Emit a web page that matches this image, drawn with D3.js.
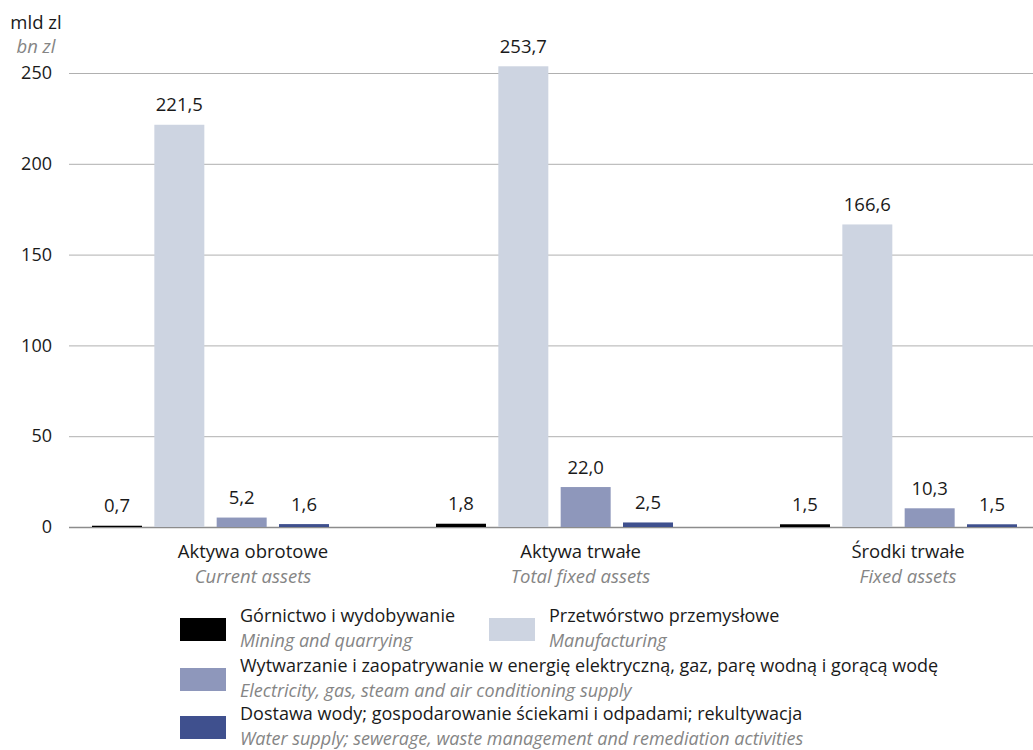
<!DOCTYPE html>
<html>
<head>
<meta charset="utf-8">
<script src="https://cdn.jsdelivr.net/npm/d3@7"></script>
<style>
  body { margin: 0; background: #fff; }
  svg text { font-family: "Open Sans", sans-serif; }
</style>
</head>
<body>
<div id="chart"></div>
<script>
// categories (polish + english)
const categories = ["Aktywa obrotowe", "Aktywa trwałe", "Środki trwałe"];
const categoriesEn = ["Current assets", "Total fixed assets", "Fixed assets"];

// series
const seriesPl = [
    "Górnictwo i wydobywanie",
    "Przetwórstwo przemysłowe",
    "Wytwarzanie i zaopatrywanie w energię elektryczną, gaz, parę wodną i gorącą wodę",
    "Dostawa wody; gospodarowanie ściekami i odpadami; rekultywacja"
];
const seriesEn = [
    "Mining and quarrying",
    "Manufacturing",
    "Electricity, gas, steam and air conditioning supply",
    "Water supply; sewerage, waste management and remediation activities"
];
const colors = ["#000000", "#cdd4e1", "#8e97bb", "#3f508e"];

// values per series, one per category (mld zl)
const mining = [0.7, 1.8, 1.5];
const manufacturing = [221.5, 253.7, 166.6];
const energy = [5.2, 22.0, 10.3];
const water = [1.6, 2.5, 1.5];

const yTicks = [0, 50, 100, 150, 200, 250];

const width = 1033;
const height = 750;
const fontSize = "18.5px";
const grey = "#858585";

const values = [mining, manufacturing, energy, water];
const data = [];
categories.forEach((c, i) => {
    seriesPl.forEach((s, j) => {
        data.push({cat: c, series: s, value: values[j][i], color: colors[j]});
    });
});

const fmt = v => d3.format(".1f")(v).replace(".", ",");

var svg = d3.select("#chart").append("svg")
    .attr("width", width)
    .attr("height", height);

var y = d3.scaleLinear()
    .domain([0, 250])
    .range([527, 73]);

var x0 = d3.scaleBand()
    .domain(categories)
    .range([92, 1017])
    .paddingInner(0.311);

var x1 = d3.scaleBand()
    .domain(seriesPl)
    .range([0, x0.bandwidth()])
    .paddingInner(0.198);

// labels under groups are not centred on the bars
var xLabel = d3.scalePoint()
    .domain(categories)
    .range([253, 908]);

// grid + y axis
var yAxis = svg.append("g")
    .attr("transform", "translate(69,0)")
    .call(d3.axisLeft(y).tickValues(yTicks).tickSize(-(width - 69)).tickPadding(17));
yAxis.select(".domain").remove();
yAxis.selectAll(".tick line")
    .attr("stroke", d => d === 0 ? "#8c8c8c" : "#b0b0b0")
    .attr("stroke-width", d => d === 0 ? 1.5 : 1);
yAxis.selectAll(".tick text")
    .attr("fill", "#1a1a1a")
    .style("font-size", "18px")
    .style("font-family", "'Open Sans', sans-serif");

// unit label
svg.append("text")
    .attr("x", 36).attr("y", 29)
    .attr("text-anchor", "middle")
    .style("font-size", fontSize)
    .attr("fill", "#1a1a1a")
    .text("mld zl");
svg.append("text")
    .attr("x", 36).attr("y", 53)
    .attr("text-anchor", "middle")
    .style("font-size", fontSize)
    .style("font-style", "italic")
    .attr("fill", grey)
    .text("bn zl");

// bars
var bars = svg.append("g");
bars.selectAll("rect")
    .data(data)
    .join("rect")
        .attr("x", d => x0(d.cat) + x1(d.series))
        .attr("y", d => y(d.value))
        .attr("width", x1.bandwidth())
        .attr("height", d => y(0) - y(d.value))
        .attr("fill", d => d.color);

// value labels
bars.selectAll("text")
    .data(data)
    .join("text")
        .attr("x", d => x0(d.cat) + x1(d.series) + x1.bandwidth() / 2)
        .attr("y", d => y(d.value) - 13.5)
        .attr("text-anchor", "middle")
        .style("font-size", fontSize)
        .attr("fill", "#1a1a1a")
        .text(d => fmt(d.value));

// category labels
var catLabels = svg.append("g");
catLabels.selectAll("text.pl")
    .data(categories)
    .join("text")
        .attr("class", "pl")
        .attr("x", d => xLabel(d))
        .attr("y", 558)
        .attr("text-anchor", "middle")
        .style("font-size", fontSize)
        .attr("fill", "#1a1a1a")
        .text(d => d);
catLabels.selectAll("text.en")
    .data(categoriesEn)
    .join("text")
        .attr("class", "en")
        .attr("x", (d, i) => xLabel(categories[i]))
        .attr("y", 583)
        .attr("text-anchor", "middle")
        .style("font-size", fontSize)
        .style("font-style", "italic")
        .attr("fill", grey)
        .text(d => d);

// legend
const legendPos = [
    {x: 180, y: 618},
    {x: 489, y: 618},
    {x: 180, y: 668},
    {x: 180, y: 716}
];
var legend = svg.append("g")
    .selectAll("g")
    .data(seriesPl)
    .join("g")
        .attr("transform", (d, i) => `translate(${legendPos[i].x},${legendPos[i].y})`);
legend.append("rect")
    .attr("width", 46)
    .attr("height", 23)
    .attr("fill", (d, i) => colors[i]);
legend.append("text")
    .attr("x", 60)
    .attr("y", 4)
    .style("font-size", "18px")
    .attr("fill", "#1a1a1a")
    .text(d => d);
legend.append("text")
    .attr("x", 60)
    .attr("y", 29)
    .style("font-size", "18px")
    .style("font-style", "italic")
    .attr("fill", grey)
    .text((d, i) => seriesEn[i]);
</script>
</body>
</html>
